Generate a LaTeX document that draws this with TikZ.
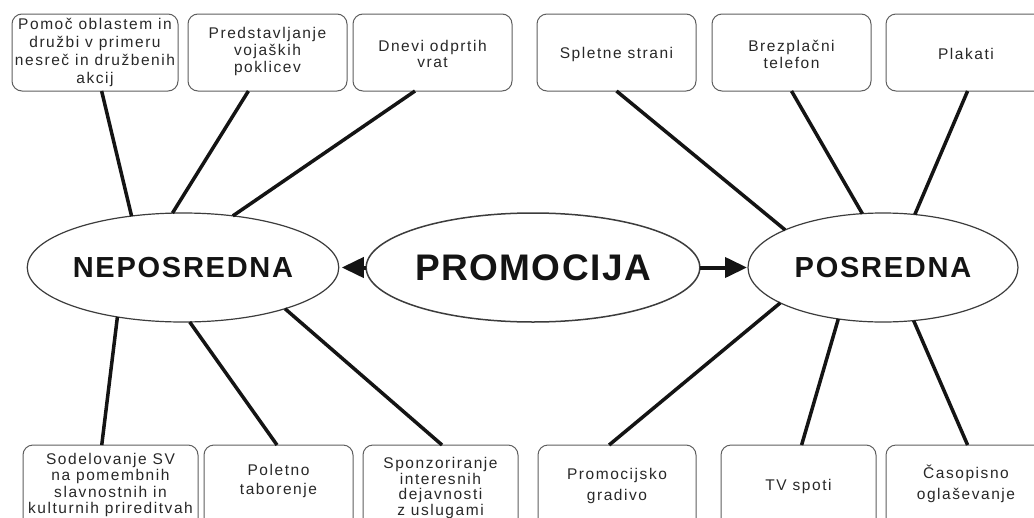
\documentclass[tikz,border=0pt]{standalone}
\usepackage{fontspec}
\setmainfont{Liberation Sans}
\newfontfamily\boxfont[LetterSpace=10]{Liberation Sans}
\newfontfamily\bigfont[LetterSpace=6]{Liberation Sans}
\newfontfamily\promfont[LetterSpace=4]{Liberation Sans}
\usetikzlibrary{shapes.geometric,arrows.meta,calc}
\definecolor{boxgray}{RGB}{95,95,95}
\definecolor{ovalgray}{RGB}{60,60,60}
\definecolor{txtgray}{RGB}{40,40,40}
\definecolor{inkc}{RGB}{20,20,20}
\tikzset{
  box/.style={draw=boxgray, line width=1pt, rounded corners=10pt, inner sep=0pt, outer sep=0pt, fill=white},
  txt/.style={font=\boxfont\fontsize{15.5}{#1}\selectfont, text=txtgray, align=center, inner sep=0pt},
  txt/.default=17,
  oval/.style={ellipse, draw=ovalgray, line width=1.2pt, minimum width=270pt, minimum height=109pt, inner sep=0pt, outer sep=0pt, fill=white, text=inkc},
  conn/.style={line width=3.5pt, draw=inkc},
  arr/.style={line width=4pt, draw=inkc, -{Triangle[length=22pt,width=20pt]}},
}
\begin{document}
\begin{tikzpicture}[x=1pt,y=-1pt]
\useasboundingbox (0,0) rectangle (1034,517);
\clip (0,0) rectangle (1034,517);
\fill[white] (0,0) rectangle (1034,517);

% top boxes
\node[box, minimum width=166pt, minimum height=77pt] (b1) at (95,52.5) {};
\node[box, minimum width=159pt, minimum height=77pt] (b2) at (267.5,52.5) {};
\node[box, minimum width=159pt, minimum height=77pt] (b3) at (432.5,52.5) {};
\node[box, minimum width=159pt, minimum height=77pt] (b4) at (616.5,52.5) {};
\node[box, minimum width=159pt, minimum height=77pt] (b5) at (791.5,52.5) {};
\node[box, minimum width=160pt, minimum height=77pt] (b6) at (966,52.5) {};

% bottom boxes
\node[box, minimum width=175pt, minimum height=90pt] (b7) at (110.5,490) {};
\node[box, minimum width=149pt, minimum height=90pt] (b8) at (278.5,490) {};
\node[box, minimum width=155pt, minimum height=90pt] (b9) at (440.5,490) {};
\node[box, minimum width=158pt, minimum height=90pt] (b10) at (617,490) {};
\node[box, minimum width=155pt, minimum height=90pt] (b11) at (798.5,490) {};
\node[box, minimum width=160pt, minimum height=90pt] (b12) at (966,490) {};

% texts
\node[txt=18] (t1) at (95,52.5) {Pomoč oblastem in\\družbi v primeru\\nesreč in družbenih\\akcij};
\node[txt=17] (t2) at (267.5,51) {Predstavljanje\\vojaških\\poklicev};
\node[txt=16] (t3) at (432.5,53.5) {Dnevi odprtih\\vrat};
\node[txt] (t4) at (616.5,54) {Spletne strani};
\node[txt=17] (t5) at (791.5,54) {Brezplačni\\telefon};
\node[txt] (t6) at (966,54) {Plakati};

\node[txt=16.5] (t7) at (110.5,485) {Sodelovanje SV\\na pomembnih\\slavnostnih in\\kulturnih prireditvah};
\node[txt=19] (t8) at (278.5,480.5) {Poletno\\taborenje};
\node[txt=15.5] (t9) at (440.5,488) {Sponzoriranje\\interesnih\\dejavnosti\\z uslugami};
\node[txt=21] (t10) at (617,486) {Promocijsko\\gradivo};
\node[txt] (t11) at (798.5,486) {TV spoti};
\node[txt=21] (t12) at (966,484) {Časopisno\\oglaševanje};

% ellipses
\node[oval, font=\bigfont\bfseries\fontsize{29}{29}\selectfont] (nep) at (183,267.5) {NEPOSREDNA};
\node[oval, line width=1.5pt, font=\promfont\bfseries\fontsize{37}{37}\selectfont] (pro) at (533,267.5) {PROMOCIJA};
\node[oval, font=\bigfont\bfseries\fontsize{29}{29}\selectfont] (pos) at (883,267.5) {POSREDNA};

% arrows
\draw[arr, shorten >=3pt] (pro.west) -- (nep.east);
\draw[arr, shorten >=1pt] (pro.east) -- (pos.west);

% connectors top
\draw[conn] ($(b1.south west)!0.54!(b1.south east)$) -- (nep.135.8);
\draw[conn] ($(b2.south west)!0.38!(b2.south east)$) -- (nep.101.6);
\draw[conn] ($(b3.south west)!0.39!(b3.south east)$) -- (nep.46.9);
\draw[conn] ($(b4.south west)!0.50!(b4.south east)$) -- (pos.159.4);
\draw[conn] ($(b5.south west)!0.50!(b5.south east)$) -- (pos.111.4);
\draw[conn] ($(b6.south west)!0.51!(b6.south east)$) -- (pos.59.1);
% connectors bottom
\draw[conn] (nep.217.3) -- ($(b7.north west)!0.45!(b7.north east)$);
\draw[conn] (nep.277.2) -- ($(b8.north west)!0.49!(b8.north east)$);
\draw[conn] (nep.338.8) -- ($(b9.north west)!0.51!(b9.north east)$);
\draw[conn] (pos.199.8) -- ($(b10.north west)!0.45!(b10.north east)$);
\draw[conn] (pos.229.9) -- ($(b11.north west)!0.52!(b11.north east)$);
\draw[conn] (pos.300) -- ($(b12.north west)!0.51!(b12.north east)$);
\end{tikzpicture}
\end{document}
